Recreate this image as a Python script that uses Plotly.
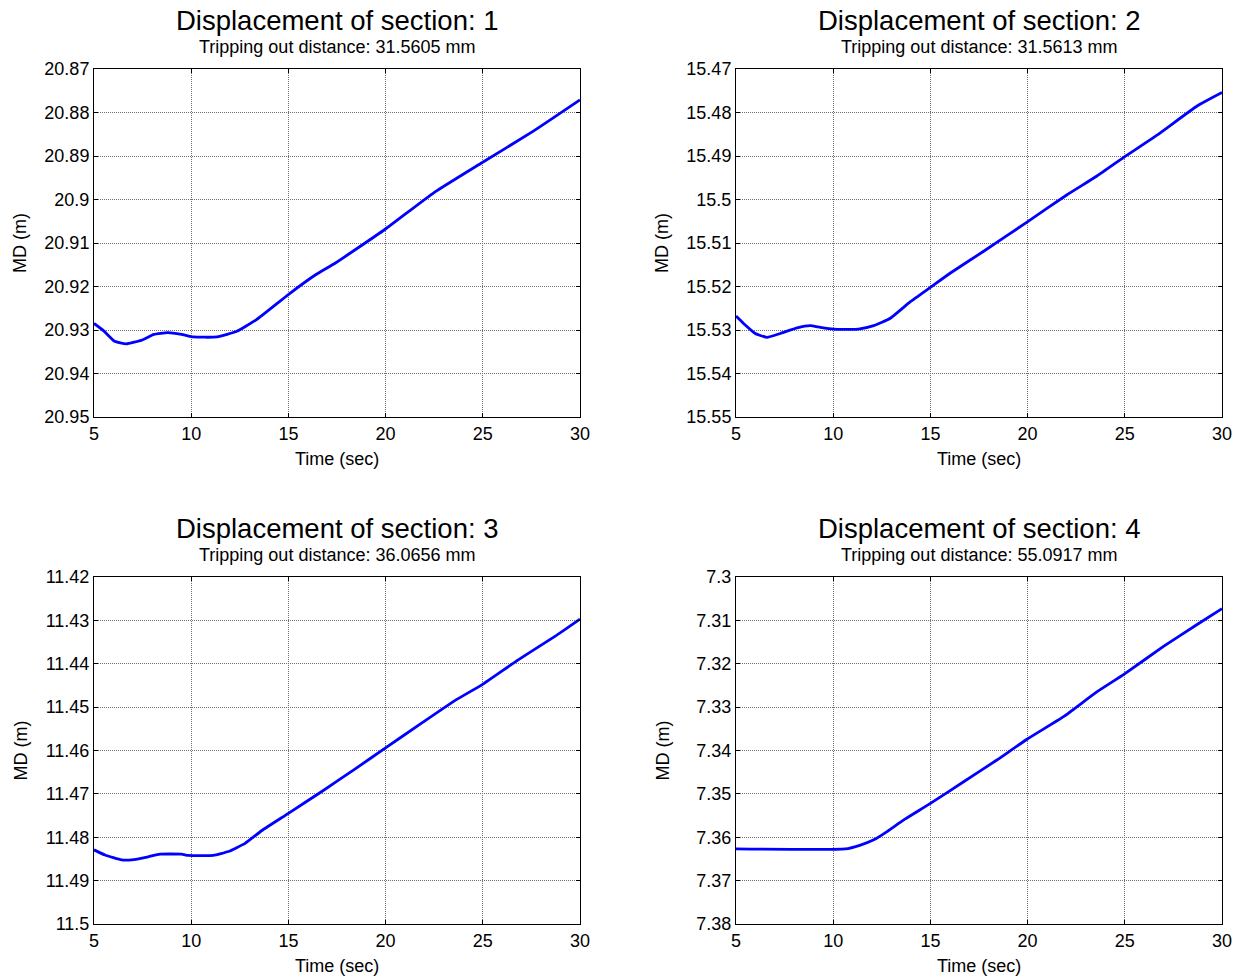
import plotly.graph_objects as go

# ---------------- data ----------------
t1 = [5.0, 5.5, 6.06, 6.66, 7.48, 8.08, 8.79, 9.5, 10.11, 11.33, 12.35, 13.36, 14.98, 16.4, 17.42, 19.96, 22.49, 24.93, 27.56, 30.0]
md1 = [20.9285, 20.9302, 20.9326, 20.9332, 20.9323, 20.9310, 20.9306, 20.9310, 20.9316, 20.9316, 20.9303, 20.9276, 20.9219, 20.9173, 20.9146, 20.9069, 20.8984, 20.8916, 20.8844, 20.8771]

t2 = [5.0, 5.39, 5.99, 6.59, 7.28, 8.14, 8.82, 9.34, 10.02, 11.3, 12.08, 12.94, 13.97, 15.0, 16.03, 17.74, 19.97, 22.03, 23.57, 24.98, 26.66, 28.72, 30.0]
md2 = [15.5268, 15.5285, 15.5308, 15.5317, 15.5308, 15.5295, 15.5290, 15.5294, 15.5298, 15.5298, 15.5290, 15.5273, 15.5235, 15.5202, 15.5169, 15.5119, 15.5052, 15.4989, 15.4946, 15.4902, 15.4852, 15.4785, 15.4754]

t3 = [5.0, 5.57, 6.42, 6.94, 7.79, 8.39, 9.5, 9.85, 11.14, 11.91, 12.77, 13.62, 15.0, 16.7, 18.42, 19.96, 21.85, 23.56, 24.97, 26.82, 28.71, 30.0]
md3 = [11.4829, 11.4841, 11.4852, 11.4852, 11.4845, 11.4839, 11.4839, 11.4842, 11.4842, 11.4833, 11.4814, 11.4785, 11.4745, 11.4695, 11.4643, 11.4595, 11.4537, 11.4485, 11.4448, 11.4391, 11.4337, 11.4297]

t4 = [5.0, 10.62, 11.4, 12.09, 12.77, 13.63, 15.0, 16.71, 18.42, 19.97, 21.85, 23.56, 24.97, 26.99, 28.7, 30.0]
md4 = [7.3627, 7.3627, 7.3618, 7.3606, 7.3587, 7.3560, 7.3522, 7.3472, 7.3422, 7.3374, 7.3322, 7.3265, 7.3224, 7.3160, 7.3110, 7.3073]

sections = ["1", "2", "3", "4"]
trip_dist = ["31.5605", "31.5613", "36.0656", "55.0917"]

x_ticks = [5, 10, 15, 20, 25, 30]
y_ticks1 = [20.87, 20.88, 20.89, 20.90, 20.91, 20.92, 20.93, 20.94, 20.95]
y_labels1 = ["20.87", "20.88", "20.89", "20.9", "20.91", "20.92", "20.93", "20.94", "20.95"]
y_ticks2 = [15.47, 15.48, 15.49, 15.50, 15.51, 15.52, 15.53, 15.54, 15.55]
y_labels2 = ["15.47", "15.48", "15.49", "15.5", "15.51", "15.52", "15.53", "15.54", "15.55"]
y_ticks3 = [11.42, 11.43, 11.44, 11.45, 11.46, 11.47, 11.48, 11.49, 11.50]
y_labels3 = ["11.42", "11.43", "11.44", "11.45", "11.46", "11.47", "11.48", "11.49", "11.5"]
y_ticks4 = [7.30, 7.31, 7.32, 7.33, 7.34, 7.35, 7.36, 7.37, 7.38]
y_labels4 = ["7.3", "7.31", "7.32", "7.33", "7.34", "7.35", "7.36", "7.37", "7.38"]

# ---------------- layout geometry ----------------
W, H = 1244, 980
FONT = "Liberation Sans, Arial, Helvetica, sans-serif"
px_boxes = [(94, 580, 69, 417), (736, 1222, 69, 417), (94, 580, 577, 924), (736, 1222, 577, 924)]

ts = [t1, t2, t3, t4]
mds = [md1, md2, md3, md4]
yt = [y_ticks1, y_ticks2, y_ticks3, y_ticks4]
yl = [y_labels1, y_labels2, y_labels3, y_labels4]

fig = go.Figure()
layout = dict(
    template="none",
    width=W, height=H,
    margin=dict(l=0, r=0, t=0, b=0, pad=0),
    paper_bgcolor="white", plot_bgcolor="white",
    showlegend=False,
    font=dict(family=FONT, color="black"),
)
annotations = []

for i in range(4):
    k = "" if i == 0 else str(i + 1)
    x0, x1, y0, y1 = px_boxes[i]
    fig.add_trace(go.Scatter(
        x=ts[i], y=mds[i], mode="lines",
        line=dict(color="#0000ff", width=2.8, shape="spline", smoothing=0.4),
        xaxis="x" + k, yaxis="y" + k,
    ))
    axis_common = dict(
        automargin=False,
        showline=True, linecolor="black", linewidth=1, mirror="ticks",
        ticks="inside", ticklen=4, tickcolor="black", tickwidth=1,
        showgrid=True, gridcolor="#707070", gridwidth=1, griddash="1px,1px",
        zeroline=False, tickfont=dict(size=18, family=FONT, color="black"),
    )
    layout["xaxis" + k] = dict(
        axis_common,
        domain=[x0 / W, x1 / W], anchor="y" + k,
        range=[5, 30], tickmode="array", tickvals=x_ticks,
        ticktext=[str(v) for v in x_ticks],
    )
    layout["yaxis" + k] = dict(
        axis_common,
        domain=[1 - y1 / H, 1 - y0 / H], anchor="x" + k,
        range=[yt[i][-1], yt[i][0]], tickmode="array",
        tickvals=yt[i], ticktext=yl[i],
    )
    cx = (x0 + x1) / 2
    annotations.append(dict(
        text="Displacement of section: " + sections[i],
        x=cx / W, y=1 - (y0 - 49) / H, xref="paper", yref="paper",
        xanchor="center", yanchor="middle", showarrow=False,
        font=dict(size=27.5, family=FONT, color="black"),
    ))
    annotations.append(dict(
        text="Tripping out distance: " + trip_dist[i] + " mm",
        x=cx / W, y=1 - (y0 - 22) / H, xref="paper", yref="paper",
        xanchor="center", yanchor="middle", showarrow=False,
        font=dict(size=18, family=FONT, color="black"),
    ))
    annotations.append(dict(
        text="Time (sec)",
        x=cx / W, y=1 - (y1 + 42) / H, xref="paper", yref="paper",
        xanchor="center", yanchor="middle", showarrow=False,
        font=dict(size=18, family=FONT, color="black"),
    ))
    annotations.append(dict(
        text="MD (m)",
        x=(x0 - 74) / W, y=1 - ((y0 + y1) / 2) / H, xref="paper", yref="paper",
        xanchor="center", yanchor="middle", showarrow=False, textangle=-90,
        font=dict(size=18, family=FONT, color="black"),
    ))

layout["annotations"] = annotations
fig.update_layout(**layout)
fig.write_html("out.html")
